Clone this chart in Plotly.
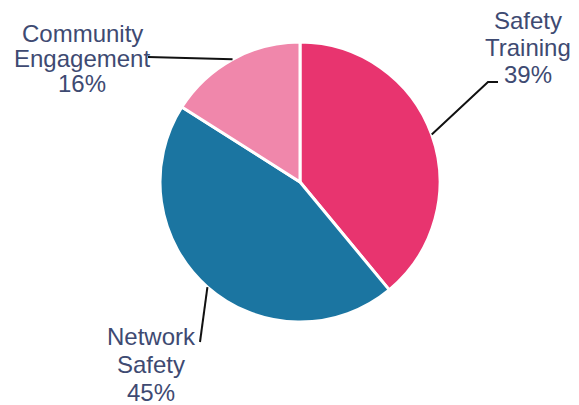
import math
import plotly.graph_objects as go

# Program share by activity
categories = ["Safety Training", "Network Safety", "Community Engagement"]
shares = [39, 45, 16]
label_lines = [["Safety", "Training"], ["Network", "Safety"], ["Community", "Engagement"]]
colors = ["#E8346F", "#1B75A1", "#F087AB"]

W, H = 579, 405
TEXT_COLOR = "#3E4A72"
FONT = "Liberation Sans, Arial, sans-serif"

# Pie placement in pixels
cx, cy, r = 300, 182, 140

def px(x):
    return x / W

def py(y):
    return 1 - y / H

# Label layout per slice: text centre x, first-line y, line step, leader waypoints after the slice edge
label_layout = [
    {"x": 528, "y": 20, "step": 27.5, "path": [(488, 82), (498, 82)]},
    {"x": 151, "y": 336, "step": 28, "path": [(200, 342)]},
    {"x": 82, "y": 33, "step": 25.5, "path": [(148, 57)]},
]

fig = go.Figure(go.Pie(
    labels=categories,
    values=shares,
    sort=False,
    direction="clockwise",
    rotation=0,
    textinfo="none",
    hoverinfo="label+percent",
    marker=dict(colors=colors, line=dict(color="white", width=3)),
    domain=dict(x=[px(cx - r), px(cx + r)], y=[py(cy + r), py(cy - r)]),
    showlegend=False,
))

total = sum(shares)
cum = 0
shapes = []
annotations = []
for cat, val, lines, lay in zip(categories, shares, label_lines, label_layout):
    mid = (cum + val / 2) / total * 2 * math.pi
    cum += val
    ex = cx + r * math.sin(mid)
    ey = cy - r * math.cos(mid)
    pts = [(ex, ey)] + lay["path"]
    d = "M " + " L ".join(f"{px(a):.5f},{py(b):.5f}" for a, b in pts)
    shapes.append(dict(type="path", path=d, xref="paper", yref="paper",
                       line=dict(color="#111111", width=2)))
    pct = round(val / total * 100)
    for i, t in enumerate(lines + [f"{pct}%"]):
        annotations.append(dict(
            x=px(lay["x"]), y=py(lay["y"] + i * lay["step"]),
            xref="paper", yref="paper", text=t, showarrow=False,
            xanchor="center", yanchor="middle",
            font=dict(family=FONT, size=24, color=TEXT_COLOR),
        ))

fig.update_layout(
    width=W, height=H,
    margin=dict(l=0, r=0, t=0, b=0),
    paper_bgcolor="white",
    plot_bgcolor="white",
    shapes=shapes,
    annotations=annotations,
)

fig.write_html("out.html")
